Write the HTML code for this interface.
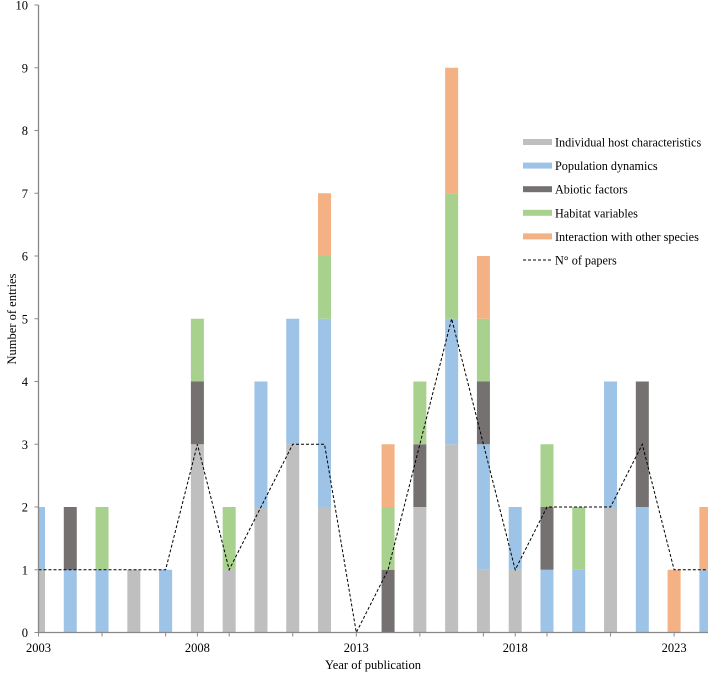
<!DOCTYPE html>
<html><head><meta charset="utf-8"><style>
body{margin:0;background:#fff}
svg text{font-family:"Liberation Serif",serif;font-size:12.5px;fill:#000}
svg #legend text{font-size:12.2px}
</style></head><body>
<svg id="chart" width="708" height="674">
<g id="grid"></g><g id="bars"></g><g id="axes"></g><g id="legend"></g>
<text x="373" y="669" text-anchor="middle">Year of publication</text>
<text transform="translate(16,319) rotate(-90)" text-anchor="middle">Number of entries</text>
</svg>
<script>
const years=[2003,2004,2005,2006,2007,2008,2009,2010,2011,2012,2013,2014,2015,2016,2017,2018,2019,2020,2021,2022,2023,2024];
const hostChar=[1,0,0,1,0,3,1,2,3,2,0,0,2,3,1,1,0,0,2,0,0,0];
const popDyn=[1,1,1,0,1,0,0,2,2,3,0,0,0,2,2,1,1,1,2,2,0,1];
const abiotic=[0,1,0,0,0,1,0,0,0,0,0,1,1,0,1,0,1,0,0,2,0,0];
const habitat=[0,0,1,0,0,1,1,0,0,1,0,1,1,2,1,0,1,1,0,0,0,0];
const interaction=[0,0,0,0,0,0,0,0,0,1,0,1,0,2,1,0,0,0,0,0,1,1];
const papers=[1,1,1,1,1,3,1,2,3,3,0,1,3,5,3,1,2,2,2,3,1,1];
const yTicks=[0,1,2,3,4,5,6,7,8,9,10];
const xLabels=[2003,2008,2013,2018,2023];
const seriesNames=["Individual host characteristics","Population dynamics","Abiotic factors","Habitat variables","Interaction with other species"];
const colors=["#bfbfbf","#9dc3e6","#767171","#a9d18e","#f4b183"];
const series=[hostChar,popDyn,abiotic,habitat,interaction];
const NS="http://www.w3.org/2000/svg";
const X0=38.5,X1=708,Y0=632.5,YT=5;
const px=31.78;
const x=y=>X0+(y-2003)*px;
const yv=v=>Y0-(Y0-YT)*v/10;
function mk(tag,attrs,parent){const e=document.createElementNS(NS,tag);for(const k in attrs)e.setAttribute(k,attrs[k]);parent.appendChild(e);return e;}
const bars=document.getElementById('bars'),axes=document.getElementById('axes'),legend=document.getElementById('legend');
const bw=13;
years.forEach((yr,i)=>{let base=0;
 series.forEach((s,j)=>{const v=s[i];if(!v)return;
  let l=x(yr)-bw/2,r=x(yr)+bw/2;l=Math.max(l,X0);r=Math.min(r,X1);
  const e=mk('rect',{x:l,y:yv(base+v),width:r-l,height:yv(base)-yv(base+v),fill:colors[j]},bars);
  
  
  base+=v;});});
const pts=years.map((yr,i)=>x(yr)+','+yv(papers[i])).join(' ');
const pl=mk('polyline',{points:pts,fill:'none',stroke:'#000','stroke-width':1,'stroke-dasharray':'3,2'},bars);


const ya=mk('line',{x1:X0,y1:YT,x2:X0,y2:Y0,stroke:'#888','stroke-width':1.3},axes);


const xa=mk('line',{x1:X0,y1:Y0,x2:X1,y2:Y0,stroke:'#888','stroke-width':1.3},axes);


yTicks.forEach(t=>{
 mk('line',{x1:X0-4,y1:yv(t),x2:X0,y2:yv(t),stroke:'#888'},axes);
 const tx=mk('text',{x:28,y:yv(t)+4.5,'text-anchor':'end'},axes);tx.textContent=t;
 
 });
[2003,2005,2007,2008,2009,2011,2013,2015,2017,2018,2019,2021,2023].forEach(t=>{
 mk('line',{x1:x(t),y1:Y0,x2:x(t),y2:Y0+4,stroke:'#888'},axes);});
xLabels.forEach(t=>{const tx=mk('text',{x:x(t),y:652,'text-anchor':'middle'},axes);tx.textContent=t;
 
 });
seriesNames.forEach((n,j)=>{const yy=142+j*23.6;
 const g=mk('g',{},legend);
 
 
 mk('rect',{x:523,y:yy-3,width:29,height:6,fill:colors[j]},g);
 const t=mk('text',{x:555,y:yy+4.5},g);t.textContent=n;});
const g=mk('g',{},legend);


mk('line',{x1:523,y1:260,x2:552,y2:260,stroke:'#000','stroke-dasharray':'3,2'},g);
const t=mk('text',{x:555,y:264.5},g);t.textContent="N° of papers";
</script>
</body></html>
